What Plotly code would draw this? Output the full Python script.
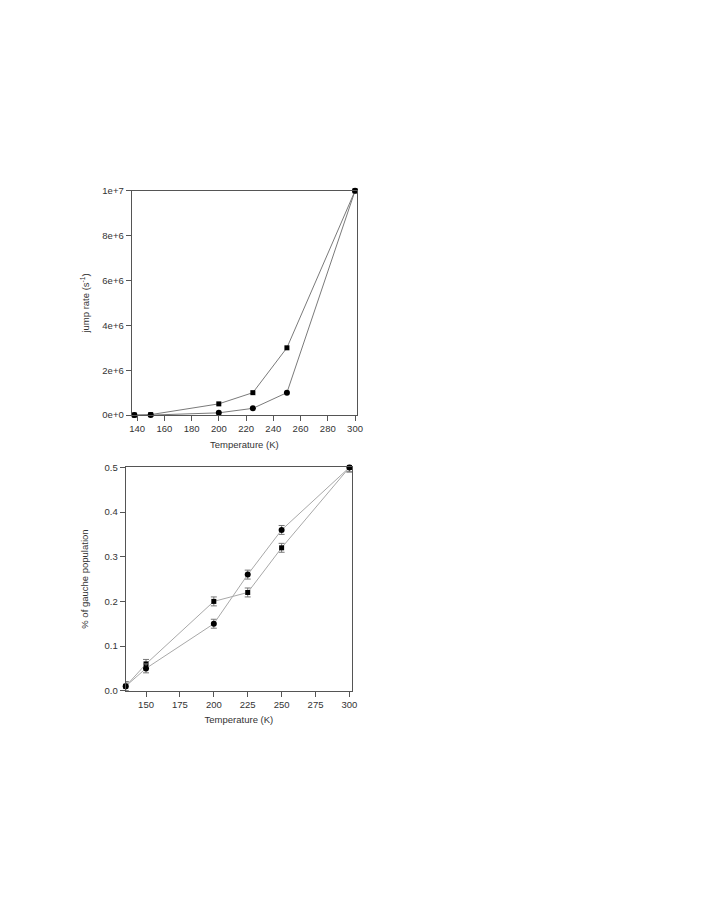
import plotly.graph_objects as go

# ---- data: top panel (jump rate) ----
top_temp = [138, 150, 200, 225, 250, 300]
top_sq = [0.0, 0.02e6, 0.5e6, 1.0e6, 3.0e6, 1.0e7]
top_ci = [0.0, 0.0, 0.1e6, 0.3e6, 1.0e6, 1.0e7]
top_xticks = [140, 160, 180, 200, 220, 240, 260, 280, 300]
top_yticks = [0, 2e6, 4e6, 6e6, 8e6, 1e7]
top_yticktext = ["0e+0", "2e+6", "4e+6", "6e+6", "8e+6", "1e+7"]

# ---- data: bottom panel (gauche population) ----
bot_temp = [135, 150, 200, 225, 250, 300]
bot_sq = [0.01, 0.06, 0.20, 0.22, 0.32, 0.50]
bot_ci = [0.01, 0.05, 0.15, 0.26, 0.36, 0.50]
bot_err = [0.01, 0.01, 0.01, 0.01, 0.01, 0.01]
bot_xticks = [150, 175, 200, 225, 250, 275, 300]
bot_yticks = [0.0, 0.1, 0.2, 0.3, 0.4, 0.5]

W, H = 715, 908
OFF = 8  # page body margin
FONT = "Liberation Sans, Arial, sans-serif"
TXT = "#333333"
LINE_TOP = "#7a7a7a"
LINE_BOT = "#a8a8a8"
AX = "#555555"
FS = 9.5


def px(x):
    return (x - OFF) / W


def py(y):
    return 1 - (y - OFF) / H


fig = go.Figure()

fig.add_trace(go.Scatter(x=top_temp, y=top_sq, mode="lines+markers",
                         line=dict(color=LINE_TOP, width=1),
                         marker=dict(symbol="square", size=5, color="black"),
                         xaxis="x", yaxis="y", cliponaxis=False, showlegend=False))
fig.add_trace(go.Scatter(x=top_temp, y=top_ci, mode="lines+markers",
                         line=dict(color=LINE_TOP, width=1),
                         marker=dict(symbol="circle", size=6, color="black"),
                         xaxis="x", yaxis="y", cliponaxis=False, showlegend=False))

err = dict(type="data", array=bot_err, visible=True, color="#777777", thickness=1, width=3)
fig.add_trace(go.Scatter(x=bot_temp, y=bot_sq, mode="lines+markers",
                         line=dict(color=LINE_BOT, width=1),
                         error_y=err,
                         marker=dict(symbol="square", size=5, color="black"),
                         xaxis="x2", yaxis="y2", cliponaxis=False, showlegend=False))
fig.add_trace(go.Scatter(x=bot_temp, y=bot_ci, mode="lines+markers",
                         line=dict(color=LINE_BOT, width=1),
                         error_y=err,
                         marker=dict(symbol="circle", size=6, color="black"),
                         xaxis="x2", yaxis="y2", cliponaxis=False, showlegend=False))

axis_common = dict(showgrid=False, zeroline=False, showline=True, linecolor=AX,
                   linewidth=1, mirror=True, ticks="outside", ticklen=5,
                   tickcolor=AX, tickwidth=1,
                   tickfont=dict(family=FONT, size=FS, color=TXT))
title_font = dict(family=FONT, size=FS, color=TXT)

fig.update_layout(
    width=W, height=H,
    margin=dict(l=0, r=0, t=0, b=0),
    paper_bgcolor="white", plot_bgcolor="white",
    font=dict(family=FONT, size=FS, color=TXT),
    xaxis=dict(domain=[px(131), px(359)], range=[136, 301.5], anchor="y",
               tickvals=top_xticks,
               title=dict(text="Temperature (K)", font=title_font, standoff=7),
               **axis_common),
    yaxis=dict(domain=[py(414), py(187)], range=[0, 1e7], anchor="x",
               tickvals=top_yticks, ticktext=top_yticktext,
               title=dict(text="jump rate (s<sup>-1</sup>)", font=title_font, standoff=10),
               **axis_common),
    xaxis2=dict(domain=[px(125), px(354)], range=[135, 302], anchor="y2",
                tickvals=bot_xticks,
                title=dict(text="Temperature (K)", font=title_font, standoff=7),
                **axis_common),
    yaxis2=dict(domain=[py(693), py(467)], range=[0, 0.5], anchor="x2",
                tickvals=bot_yticks, tickformat=".1f",
                title=dict(text="% of gauche population", font=title_font, standoff=14),
                **axis_common),
)

fig.write_html("out.html")
